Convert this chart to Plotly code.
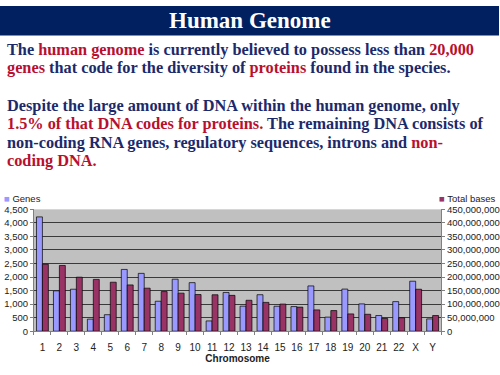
import plotly.graph_objects as go

chromosomes = ["1","2","3","4","5","6","7","8","9","10","11","12","13","14","15","16","17","18","19","20","21","22","X","Y"]
genes = [4222,1491,1550,446,609,2281,2135,1106,1920,1793,379,1430,924,1347,921,909,1672,519,1555,1008,578,1092,1846,454]
total_bases = [247199719,242751149,199446827,191263063,180837866,170896993,158821424,146274826,140442298,135374737,134452384,132289534,114127980,106360585,100114055,88822254,78654742,76117153,63806651,62436224,46944323,49528953,154913754,57741652]

NAVY = "#1C2A6B"
RED = "#B8102E"
GENES_C = "#9999FF"
BASES_C = "#993366"
W, H = 500, 375

fig = go.Figure()
fig.add_trace(go.Bar(x=chromosomes, y=genes, name="Genes", yaxis="y", offsetgroup="1",
                     marker=dict(color=GENES_C, line=dict(color="#000000", width=0.7))))
fig.add_trace(go.Bar(x=chromosomes, y=total_bases, name="Total bases", yaxis="y2", offsetgroup="2",
                     marker=dict(color=BASES_C, line=dict(color="#000000", width=0.7))))

def py(pix):
    return 1 - pix / H

TF = dict(family="Liberation Sans, Arial", size=9.5, color="#222")
x0, x1 = 34 / W, 442 / W
fig.update_layout(
    width=W, height=H, margin=dict(l=0, r=0, t=0, b=0),
    paper_bgcolor="white", plot_bgcolor="#C0C0C0",
    barmode="group", bargap=0.3, bargroupgap=0.0,
    font=dict(family="Liberation Sans, Arial", size=10, color="#000000"),
    showlegend=False,
    xaxis=dict(domain=[x0, x1], type="category", tickson="boundaries", ticks="outside", ticklen=3,
               tickcolor="#808080", showline=True, linecolor="#808080", showgrid=False,
               tickangle=0, tickfont=dict(TF, size=10), ticklabelstandoff=7,
               title=dict(text="<b>Chromosome</b>", font=dict(size=10, color="#222"), standoff=1)),
    yaxis=dict(domain=[py(335), py(209.5)], range=[0, 4500], dtick=500, tickformat=",",
               showgrid=True, gridcolor="#3a3a3a", gridwidth=1.3, ticks="outside", ticklen=3,
               tickcolor="#808080", showline=True, linecolor="#808080", zeroline=False,
               tickfont=TF),
    yaxis2=dict(overlaying="y", side="right", range=[0, 450000000], dtick=50000000, tickformat=",",
                showgrid=False, ticks="outside", ticklen=3, tickcolor="#808080", showline=True,
                linecolor="#808080", zeroline=False, anchor="x",
                tickfont=TF),
)

# legend labels (Excel-style, at the top corners)
fig.add_annotation(text=f'<span style="color:{GENES_C}">■</span> Genes', x=2 / W, y=py(198.5),
                   xref="paper", yref="paper", xanchor="left", yanchor="middle", showarrow=False,
                   font=dict(family="Liberation Sans, Arial", size=9.5, color="#222"))
fig.add_annotation(text=f'<span style="color:{BASES_C}">■</span> Total bases', x=499 / W, y=py(198.5),
                   xref="paper", yref="paper", xanchor="right", yanchor="middle", showarrow=False,
                   font=dict(family="Liberation Sans, Arial", size=9.5, color="#222"))

# banner
fig.add_shape(type="rect", xref="paper", yref="paper", x0=0, x1=1, y0=py(30.5), y1=1,
              fillcolor="#002060", line=dict(width=0), layer="below")
fig.add_annotation(text="<b>Human Genome</b>", x=0.5, y=py(15), xref="paper", yref="paper",
                   xanchor="center", yanchor="middle", showarrow=False,
                   font=dict(family="Liberation Serif, Times New Roman", size=23, color="white"))

def r(s):
    return f'<span style="color:{RED}">{s}</span>'

lines = [
    (44.5, "The " + r("human genome") + " is currently believed to possess less than " + r("20,000")),
    (63.5, r("genes") + " that code for the diversity of " + r("proteins") + " found in the species."),
    (102, "Despite the large amount of DNA within the human genome, only"),
    (121, r("1.5% of that DNA codes for proteins.") + " The remaining DNA consists of"),
    (140.5, "non-coding RNA genes, regulatory sequences, introns and " + r("non-")),
    (159.5, r("coding DNA.")),
]
for ypix, txt in lines:
    fig.add_annotation(text="<b>" + txt + "</b>", x=5 / W, y=py(ypix), xref="paper", yref="paper",
                       xanchor="left", yanchor="middle", showarrow=False, align="left",
                       font=dict(family="Liberation Serif, Times New Roman", size=16.3, color=NAVY))

fig.write_html("out.html", config={"displayModeBar": False},
               post_script="document.body.style.margin='0';document.body.style.padding='0';")
